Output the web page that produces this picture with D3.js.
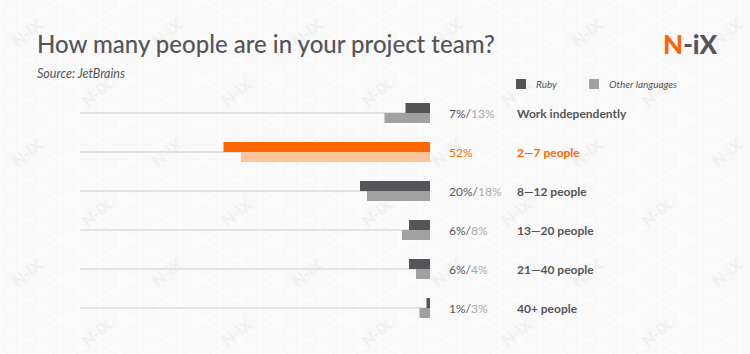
<!DOCTYPE html>
<html>
<head>
<meta charset="utf-8">
<script src="https://cdn.jsdelivr.net/npm/d3@7"></script>
<style>
  body { margin: 0; background: #fafafa; }
  svg { display: block; font-family: Lato, sans-serif; }
</style>
</head>
<body>
<div id="chart"></div>
<script>
// data
const categories = ["Work independently", "2\u20147 people", "8\u201412 people", "13\u201420 people", "21\u201440 people", "40+ people"]
const rubyShare = [7, 59, 20, 6, 6, 1]
const otherShare = [13, 54, 18, 8, 4, 3]
const rubyLabels = ["7%", "52%", "20%", "6%", "6%", "1%"]
const otherLabels = ["13%", "", "18%", "8%", "4%", "3%"]
const highlight = "2\u20147 people"
const legendItems = ["Ruby", "Other languages"]

const width = 750
const height = 354

const colors = {
    ruby: "#545459", other: "#a1a1a1",
    rubyHi: "#ff6600", otherHi: "#ffc49b",
    text: "#555559", light: "#a8a8a8", grid: "#e2e2e2"
}

const svg = d3.select("#chart").append("svg")
    .attr("width", width)
    .attr("height", height)

svg.append("rect")
    .attr("width", width).attr("height", height)
    .attr("fill", "#f9f9f9")

// watermark lattice (very faint)
const bg = svg.append("g").attr("class", "watermark")
bg.append("g").selectAll("line")
    .data(d3.range(0, width, 20))
    .join("line")
        .attr("x1", d => d).attr("x2", d => d)
        .attr("y1", 0).attr("y2", height)
        .attr("stroke", "#ffffff").attr("stroke-width", 1)
bg.append("g").selectAll("line")
    .data(d3.range(-height * 2, width + height, 70))
    .join("line")
        .attr("x1", d => d).attr("y1", 0)
        .attr("x2", d => d + height * 1.75).attr("y2", height)
        .attr("stroke", "#ffffff").attr("stroke-width", 1)
bg.append("g").selectAll("line")
    .data(d3.range(-height * 2, width + height * 2, 70))
    .join("line")
        .attr("x1", d => d).attr("y1", 0)
        .attr("x2", d => d - height * 1.75).attr("y2", height)
        .attr("stroke", "#ffffff").attr("stroke-width", 1)

const marks = []
d3.range(0, 6).forEach(r => {
    d3.range(0, 6).forEach(c => {
        const x = 27 + c * 140 + (r % 2 ? 70 : 0)
        const y = 33 + r * 60
        if (x > 20 && x < width - 20 && y < height - 15) marks.push([x, y])
    })
})
bg.append("g").selectAll("text")
    .data(marks)
    .join("text")
        .attr("transform", d => `translate(${d[0]},${d[1]}) rotate(-38)`)
        .attr("text-anchor", "middle")
        .attr("dy", "0.35em")
        .attr("font-size", 16)
        .attr("font-weight", 700)
        .attr("fill", "#f0f0f0")
        .text("N-iX")

// title, source, logo
svg.append("text")
    .attr("x", 37).attr("y", 53)
    .attr("font-size", 24)
    .attr("font-weight", 500)
    .attr("fill", colors.text)
    .text("How many people are in your project team?")

svg.append("text")
    .attr("x", 37).attr("y", 78)
    .attr("font-size", 12.5)
    .attr("font-style", "italic")
    .attr("fill", colors.text)
    .text("Source: JetBrains")

const logo = svg.append("text")
    .attr("x", 663).attr("y", 54)
    .attr("font-size", 26)
    .attr("font-weight", 900)
    .attr("fill", colors.text)
logo.append("tspan").attr("fill", colors.rubyHi).text("N")
logo.append("tspan").text("-iX")

// legend
const legend = svg.append("g")
    .selectAll("g")
    .data(legendItems)
    .join("g")
        .attr("transform", (d, i) => `translate(${516 + i * 73},79)`)
legend.append("rect")
    .attr("width", 10).attr("height", 10)
    .attr("fill", (d, i) => i ? colors.other : colors.ruby)
legend.append("text")
    .attr("x", 20).attr("y", 9)
    .attr("font-size", 10)
    .attr("font-style", "italic")
    .attr("fill", colors.text)
    .text(d => d)

// scales
const xScale = d3.scaleLinear()
    .domain([0, 100])
    .range([430, 80])

const yScale = d3.scaleBand()
    .domain(categories)
    .range([93.5, 327.5])

const barH = 10
const rows = categories.map((c, i) => ({
    cat: c, ruby: rubyShare[i], other: otherShare[i],
    rl: rubyLabels[i], ol: otherLabels[i], hi: c === highlight
}))

const row = svg.append("g")
    .selectAll("g")
    .data(rows)
    .join("g")
        .attr("transform", d => `translate(0,${yScale(d.cat) + yScale.bandwidth() / 2})`)

row.append("line")
    .attr("x1", xScale(100)).attr("x2", xScale(0))
    .attr("y1", 0).attr("y2", 0)
    .attr("stroke", colors.grid)
    .attr("stroke-width", 2)

row.append("rect")
    .attr("x", d => xScale(d.ruby))
    .attr("y", -barH)
    .attr("width", d => xScale(0) - xScale(d.ruby))
    .attr("height", barH)
    .attr("fill", d => d.hi ? colors.rubyHi : colors.ruby)

row.append("rect")
    .attr("x", d => xScale(d.other))
    .attr("y", 0)
    .attr("width", d => xScale(0) - xScale(d.other))
    .attr("height", barH)
    .attr("fill", d => d.hi ? colors.otherHi : colors.other)

const pct = row.append("text")
    .attr("x", 449).attr("y", 5)
    .attr("font-size", 12)
pct.append("tspan")
    .attr("fill", d => d.hi ? colors.rubyHi : colors.text)
    .text(d => d.ol ? d.rl + "/" : d.rl)
pct.append("tspan")
    .attr("fill", colors.light)
    .text(d => d.ol)

row.append("text")
    .attr("x", 517).attr("y", 5)
    .attr("font-size", 12)
    .attr("font-weight", 700)
    .attr("fill", d => d.hi ? colors.rubyHi : colors.text)
    .text(d => d.cat)
</script>
</body>
</html>
